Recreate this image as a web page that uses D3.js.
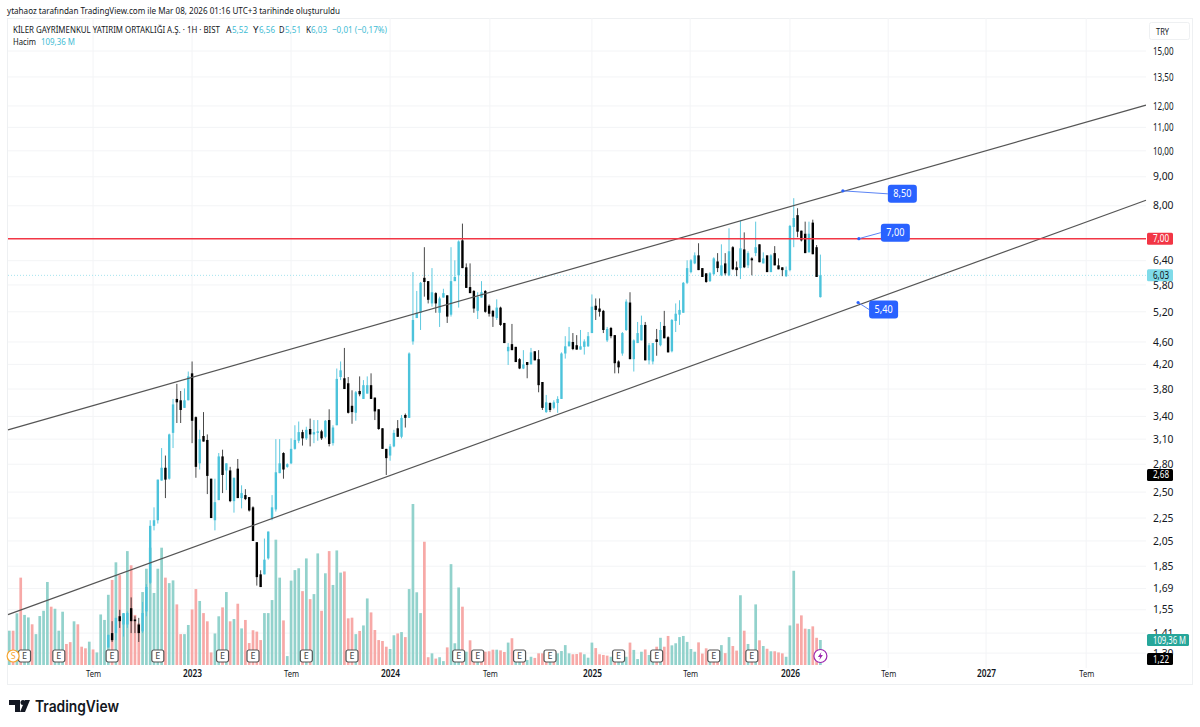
<!DOCTYPE html>
<html>
<head>
<meta charset="utf-8">
<script src="https://cdn.jsdelivr.net/npm/d3@7"></script>
<style>
  html, body { margin: 0; background: #fff; }
  text { font-family: "Noto Sans", sans-serif; }
</style>
</head>
<body>
<svg id="chart" width="1200" height="727"></svg>
<script>
const width = 1200;
const height = 727;
const pane = { left: 8, right: 1146, top: 18, bottom: 665 };

const priceTicks = [15, 13.5, 12, 11, 10, 9, 8, 6.4, 5.8, 5.2, 4.6, 4.2, 3.8, 3.4, 3.1, 2.8, 2.5, 2.25, 2.05, 1.85, 1.69, 1.55, 1.41, 1.3];
const timeTickBars = [22, 48, 74, 100, 126.2, 153, 178.8, 205, 230.8, 256.5, 282.8];
const timeTickLabels = ['Tem', '2023', 'Tem', '2024', 'Tem', '2025', 'Tem', '2026', 'Tem', '2027', 'Tem'];

// volume in millions, one per weekly bar
const volumes = [
  150,150,226,382,219,208,178,135,214,237,
  363,255,246,150,233,92,100,191,178,80,
  73,102,68,55,221,197,307,372,449,393,
  223,498,436,219,182,319,421,513,315,421,
  513,382,358,370,265,135,135,175,243,332,
  280,227,191,55,138,213,252,319,191,201,
  268,160,197,96,152,146,109,227,227,284,
  548,382,195,39,369,415,423,
  323,466,288,310,488,237,401,498,350,501,
  404,409,204,207,135,149,173,291,230,153,
  109,105,80,70,130,138,144,122,332,704,
  318,227,539,34,51,28,34,17,77,441,
  95,339,255,58,108,51,51,44,58,60,
  67,67,64,57,98,117,44,44,29,22,
  36,31,51,51,63,66,44,51,61,87,
  51,47,48,55,47,32,98,74,47,44,
  41,36,26,29,51,36,98,66,26,58,
  68,44,51,80,119,80,127,86,95,122,
  127,101,70,58,99,50,73,66,66,51,
  87,52,122,83,63,305,150,92,51,265,
  108,83,71,60,60,55,51,36,173,412,
  181,217,159,157,169,119,109.36
];
const volumeUp = [
  1,0,1,0,1,1,0,1,1,1,
  1,0,1,1,1,0,0,1,0,0,
  0,1,0,1,1,1,1,0,1,0,
  1,1,0,0,0,1,1,1,1,1,
  1,0,1,1,0,0,1,1,0,0,
  1,0,0,0,1,1,0,1,0,1,
  0,1,0,0,0,0,0,1,1,1,
  1,1,0,1,1,1,1,
  0,1,0,1,1,0,1,0,1,1,
  1,0,0,0,1,0,1,1,0,0,
  0,0,0,1,1,0,1,0,1,1,
  1,1,0,0,1,0,1,1,0,1,
  1,1,0,1,0,0,1,0,0,0,
  0,1,0,0,1,0,1,1,0,1,
  1,0,0,0,0,1,0,1,1,1,
  1,0,0,0,1,1,1,0,0,0,
  0,1,0,1,1,1,0,1,1,1,
  0,1,1,0,1,0,0,1,1,1,
  1,1,1,1,0,0,0,1,0,0,
  1,0,1,0,0,1,0,1,0,1,
  0,1,0,1,0,0,0,1,1,1,
  0,0,0,1,0,0,1
];

// candles before this bar sit under the bottom of the price scale
const firstCandleBar = 26;
const opens = [
  1.33,1.41,1.41,1.51,1.46,1.46,1.56,1.49,1.46,1.42,
  1.54,1.73,2.18,2.23,2.62,2.76,2.64,3.18,3.65,3.63,
  3.52,3.63,4.05,3.39,2.81,3.14,3.09,2.64,2.23,2.42,
  2.89,2.73,2.73,2.41,2.75,2.44,2.47,2.45,2.35,2.04,
  1.79,1.79,1.91,2.25,2.33,2.70,2.93,2.77,2.81,2.98,
  3.08,3.19,3.11,3.23,3.16,3.18,3.20,3.13,3.35,3.05,
  3.28,3.99,3.97,3.89,3.55,3.45,3.77,3.65,3.73,3.86,
  3.67,3.50,3.24,2.98,2.90,3.01,3.24,3.13,3.42,3.38,
  4.61,5.07,5.18,5.97,5.89,5.38,5.61,5.18,5.51,5.56,
  5.14,5.89,6.03,6.95,6.23,5.75,5.66,5.22,5.51,5.66,
  5.33,5.22,5.07,5.29,4.97,4.43,4.56,4.51,4.29,4.13,
  4.24,4.20,4.43,4.29,3.91,3.46,3.59,3.52,3.59,3.65,
  4.39,4.52,4.60,4.54,4.46,4.51,4.52,4.77,5.33,5.27,
  5.22,4.63,4.87,4.73,4.25,4.39,4.83,5.40,4.29,4.58,
  4.63,4.93,4.27,4.25,4.65,4.54,4.91,4.69,4.43,5.01,
  5.14,5.18,5.85,6.11,6.33,6.54,6.21,6.08,5.89,6.06,
  6.38,6.03,6.33,6.03,6.76,6.23,6.21,6.70,6.28,6.46,
  6.60,6.84,6.33,6.54,6.11,6.60,6.28,6.23,6.01,6.16,
  7.34,7.70,7.23,7.14,6.62,7.47,6.76,5.52
];
const highs = [
  1.40,1.48,1.50,1.55,1.53,1.54,1.63,1.51,1.50,1.60,
  1.72,2.23,2.35,2.63,2.99,2.90,3.17,3.65,3.88,3.77,
  3.81,4.08,4.25,3.40,3.22,3.46,3.16,2.64,2.64,2.93,
  2.97,2.81,2.77,2.65,2.86,2.57,2.53,2.45,2.36,2.04,
  1.82,2.07,2.13,2.47,3.10,3.10,2.94,2.81,3.11,3.28,
  3.33,3.22,3.26,3.37,3.35,3.35,3.22,3.35,3.50,3.28,
  4.13,4.25,4.49,3.99,3.78,3.77,4.00,3.94,4.00,4.05,
  3.67,3.50,3.24,2.98,3.04,3.22,3.35,3.42,3.44,4.41,
  6.11,5.66,5.87,6.76,5.89,6.21,5.63,5.53,5.71,5.56,
  6.76,6.41,6.95,7.44,6.33,6.33,5.68,5.63,5.89,5.68,
  5.36,5.24,5.47,5.31,4.97,4.58,4.95,4.51,4.31,4.45,
  4.24,4.49,4.43,4.45,3.91,3.71,3.60,3.63,3.69,4.41,
  4.71,4.89,4.77,4.73,4.83,4.65,4.79,5.58,5.49,5.49,
  5.24,4.89,4.89,4.73,4.27,4.79,5.47,5.63,4.65,4.99,
  5.12,4.99,4.58,4.58,4.85,4.99,5.22,4.71,5.05,5.38,
  5.45,5.87,6.41,6.44,6.62,6.87,6.21,6.08,6.11,6.49,
  6.60,6.84,6.60,7.30,6.79,6.38,7.53,7.18,6.65,6.49,
  7.50,6.84,6.62,6.54,6.57,6.79,6.46,6.23,6.25,7.40,
  8.25,7.92,7.23,7.50,7.50,7.56,6.82,6.56
];
const lows = [
  1.33,1.36,1.37,1.44,1.39,1.44,1.41,1.41,1.36,1.41,
  1.51,1.72,2.14,2.20,2.62,2.44,2.63,2.99,3.31,3.31,
  3.52,3.63,3.05,2.65,2.74,3.07,2.48,2.25,2.14,2.42,
  2.49,2.52,2.40,2.30,2.44,2.34,2.42,2.31,2.05,1.71,
  1.70,1.79,1.90,2.23,2.31,2.70,2.64,2.76,2.80,2.97,
  3.05,3.02,3.09,3.01,3.05,3.08,3.09,3.11,3.01,3.02,
  3.28,3.94,3.80,3.44,3.30,3.34,3.69,3.65,3.73,3.65,
  3.35,3.22,2.98,2.68,2.84,3.00,3.13,3.11,3.25,3.38,
  4.55,5.07,4.83,5.53,5.38,5.31,5.18,4.89,5.51,4.97,
  5.10,5.89,5.29,6.21,5.73,5.61,5.18,5.05,5.51,5.18,
  5.10,4.89,5.03,4.91,4.58,4.19,4.45,4.24,4.12,4.12,
  3.97,4.20,4.27,3.75,3.49,3.45,3.46,3.50,3.45,3.65,
  4.30,4.52,4.45,4.46,4.46,4.37,4.51,4.77,5.03,5.10,
  4.77,4.60,4.67,4.05,4.05,4.35,4.81,4.29,4.08,4.58,
  4.63,4.27,4.20,4.20,4.35,4.52,4.67,4.41,4.41,4.79,
  4.93,5.18,5.82,6.08,6.31,6.16,5.99,5.85,5.87,6.03,
  6.11,6.01,6.03,6.01,6.16,6.01,5.94,6.21,6.21,6.03,
  6.52,6.36,6.33,6.11,6.11,6.28,6.18,6.01,5.99,6.13,
  6.76,7.04,6.92,6.60,6.62,6.57,5.99,5.51
];
const closes = [
  1.40,1.37,1.50,1.48,1.53,1.53,1.48,1.48,1.41,1.53,
  1.70,2.18,2.23,2.63,2.76,2.63,3.16,3.57,3.60,3.49,
  3.63,4.00,3.34,2.77,3.10,3.07,2.67,2.25,2.40,2.89,
  2.68,2.81,2.41,2.65,2.44,2.49,2.43,2.32,2.05,1.77,
  1.70,1.90,2.13,2.35,2.71,2.81,2.74,2.80,2.98,3.09,
  3.19,3.11,3.22,3.16,3.19,3.20,3.11,3.34,3.04,3.25,
  3.96,4.10,3.80,3.45,3.46,3.75,3.72,3.86,3.86,3.65,
  3.47,3.23,2.98,2.87,3.01,3.18,3.13,3.38,3.38,4.39,
  5.03,5.18,5.85,5.87,5.46,5.63,5.38,5.49,5.61,5.10,
  5.89,5.99,6.92,6.21,5.73,5.61,5.27,5.53,5.63,5.20,
  5.16,5.10,5.29,4.93,4.58,4.51,4.45,4.24,4.13,4.20,
  4.19,4.41,4.27,3.86,3.52,3.60,3.49,3.60,3.65,4.39,
  4.52,4.61,4.47,4.46,4.52,4.61,4.71,5.31,5.24,5.20,
  4.83,4.85,4.71,4.22,4.15,4.77,5.42,4.29,4.63,4.77,
  4.93,4.27,4.54,4.58,4.60,4.83,4.67,4.41,5.03,5.16,
  5.24,5.85,6.21,6.41,6.54,6.16,5.99,5.87,6.08,6.46,
  6.21,6.28,6.08,6.65,6.18,6.16,6.73,6.23,6.60,6.41,
  6.76,6.36,6.46,6.11,6.54,6.28,6.18,6.16,6.16,7.37,
  7.61,7.20,6.95,6.60,7.14,6.57,5.99,6.03
];

// trend lines as [bar, price] ends
const upperTrend = [[-0.34, 3.22], [298.5, 12.04]];
const lowerTrend = [[-0.34, 1.52], [298.5, 8.18]];
const resistance = 7;
const lastPrice = 6.03;

const noteBars = [218.9, 223.1, 222.9];
const notePrices = [8.5, 7, 5.4];
const noteLabels = ['8,50', '7,00', '5,40'];
const noteOffsets = [[45, 3], [22, -6], [11, 7]];

const earningsBars = [4, 13, 27, 39, 56, 64, 78, 90, 118, 123, 134, 142, 160, 170, 185, 195];

const x = d3.scaleLinear().domain([0, 213]).range([9.3, 820.4]);
const y = d3.scaleLog().domain([15, 1.2]).range([51, 672.8]);
const volY = d3.scaleLinear().domain([0, 704]).range([pane.bottom, 504]);
const trendLine = d3.line().x(d => x(d[0])).y(d => y(d[1]));
const fmt = v => v.toFixed(2).replace('.', ',');

const svg = d3.select('#chart');

// frame
svg.append('rect').attr('x', 7.5).attr('y', 18.5).attr('width', 1185).attr('height', 666)
  .attr('fill', 'none').attr('stroke', '#eef0f2');

// grid
const grid = svg.append('g').attr('stroke', '#f3f4f6');
grid.selectAll('.h').data(priceTicks).join('line')
  .attr('x1', pane.left).attr('x2', pane.right)
  .attr('y1', d => y(d)).attr('y2', d => y(d));
grid.selectAll('.v').data(timeTickBars).join('line')
  .attr('x1', d => x(d)).attr('x2', d => x(d))
  .attr('y1', pane.top).attr('y2', pane.bottom + 3);

// volume
const barIndex = d3.range(volumes.length);
svg.append('g').selectAll('rect').data(barIndex).join('rect')
  .attr('x', i => x(i) - 1.35).attr('width', 2.7)
  .attr('y', i => volY(volumes[i]))
  .attr('height', i => pane.bottom - volY(volumes[i]))
  .attr('fill', i => volumeUp[i] ? '#92d2cc' : '#f7a9a7');

// last price dotted line
svg.append('line').attr('x1', pane.left).attr('x2', pane.right)
  .attr('y1', y(lastPrice)).attr('y2', y(lastPrice))
  .attr('stroke', '#a5e3ee').attr('stroke-dasharray', '1 2');

// candles
const upColor = '#4cc3db';
const downColor = '#000';
const candles = svg.append('g').selectAll('g').data(d3.range(opens.length)).join('g');
candles.append('line')
  .attr('x1', i => x(i + firstCandleBar)).attr('x2', i => x(i + firstCandleBar))
  .attr('y1', i => y(highs[i])).attr('y2', i => y(lows[i]))
  .attr('stroke', i => closes[i] >= opens[i] ? upColor : '#333')
  .attr('stroke-width', 0.9);
candles.append('rect')
  .attr('x', i => x(i + firstCandleBar) - 1.2).attr('width', 2.4)
  .attr('y', i => y(Math.max(opens[i], closes[i])))
  .attr('height', i => Math.max(1, y(Math.min(opens[i], closes[i])) - y(Math.max(opens[i], closes[i]))))
  .attr('fill', i => closes[i] >= opens[i] ? upColor : downColor);

// trend lines
svg.selectAll('.trend').data([upperTrend, lowerTrend]).join('path')
  .attr('d', trendLine).attr('fill', 'none').attr('stroke', '#555').attr('stroke-width', 1.2);
svg.append('line').attr('x1', pane.left).attr('x2', pane.right)
  .attr('y1', y(resistance)).attr('y2', y(resistance))
  .attr('stroke', '#f23645').attr('stroke-width', 1.5);

// callouts
const notes = svg.append('g').selectAll('g').data(noteLabels).join('g')
  .attr('transform', (d, i) => `translate(${x(noteBars[i])},${y(notePrices[i])})`);
notes.append('line')
  .attr('x2', (d, i) => noteOffsets[i][0]).attr('y2', (d, i) => noteOffsets[i][1])
  .attr('stroke', '#5b84f5').attr('stroke-width', 1);
notes.append('circle').attr('r', 1.6).attr('fill', '#2962ff');
notes.append('rect')
  .attr('x', (d, i) => noteOffsets[i][0]).attr('y', (d, i) => noteOffsets[i][1] - 9)
  .attr('width', 29).attr('height', 18).attr('rx', 3).attr('fill', '#2962ff');
notes.append('text')
  .attr('x', (d, i) => noteOffsets[i][0] + 14.5).attr('y', (d, i) => noteOffsets[i][1] + 3.5)
  .attr('text-anchor', 'middle').attr('fill', '#fff').attr('font-size', 10)
  .attr('textLength', 18).attr('lengthAdjust', 'spacingAndGlyphs').text(d => d);

// earnings and split markers
const markerY = 656;
const earnings = svg.append('g').selectAll('g').data(earningsBars).join('g')
  .attr('transform', d => `translate(${x(d)},${markerY})`);
earnings.append('rect').attr('x', -6).attr('y', -6).attr('width', 12).attr('height', 12).attr('rx', 2)
  .attr('fill', '#fff').attr('stroke', '#555').attr('stroke-width', 1.2);
earnings.append('text').attr('text-anchor', 'middle').attr('y', 3.2)
  .attr('font-size', 9).attr('fill', '#444').text('E');
const split = svg.append('g').attr('transform', `translate(${x(1)},${markerY})`);
split.append('circle').attr('r', 6).attr('fill', '#fff').attr('stroke', '#f7a631').attr('stroke-width', 1.2);
split.append('text').attr('text-anchor', 'middle').attr('y', 3.2).attr('font-size', 9).attr('fill', '#f7a631').text('S');
const flash = svg.append('g').attr('transform', `translate(${x(213)},${markerY})`);
flash.append('circle').attr('r', 6.5).attr('fill', '#fff').attr('stroke', '#9c27b0').attr('stroke-width', 1.2);
flash.append('path').attr('d', 'M1,-4 L-2.5,1 L-0.3,1 L-1,4 L2.5,-1 L0.3,-1 Z').attr('fill', '#9c27b0');

// axes
const priceAxis = d3.axisRight(y).tickValues(priceTicks).tickFormat(fmt).tickSize(0).tickPadding(0);
svg.append('g').attr('transform', 'translate(1153,0)').call(priceAxis)
  .call(g => g.select('.domain').remove())
  .selectAll('text').attr('font-size', 10).attr('fill', '#131722')
  .attr('textLength', 20.5).attr('lengthAdjust', 'spacingAndGlyphs')
  .style('font-family', '"Noto Sans", sans-serif');

const timeAxis = d3.axisBottom(x).tickValues(timeTickBars)
  .tickFormat((d, i) => timeTickLabels[i]).tickSize(0).tickPadding(0);
svg.append('g').attr('transform', 'translate(0,670.5)').call(timeAxis)
  .call(g => g.select('.domain').remove())
  .selectAll('text').attr('font-size', 9.8).attr('fill', '#131722')
  .attr('font-weight', (d, i) => timeTickLabels[i] === 'Tem' ? 400 : 600)
  .attr('textLength', (d, i) => timeTickLabels[i] === 'Tem' ? 15 : 19)
  .attr('lengthAdjust', 'spacingAndGlyphs')
  .style('font-family', '"Noto Sans", sans-serif');

// price scale labels
const scaleLabels = [
  { text: '7,00', cy: y(7), w: 26, bg: '#f23645', fg: '#fff', tw: 16 },
  { text: '6,03', cy: y(6.03), w: 26, bg: '#7fdbe9', fg: '#131722', tw: 16 },
  { text: '2,68', cy: y(2.68), w: 26, bg: '#000', fg: '#fff', tw: 16 },
  { text: '109,36 M', cy: 640, w: 42, bg: '#26a69a', fg: '#fff', tw: 33 },
  { text: '1,22', cy: 659, w: 26, bg: '#000', fg: '#fff', tw: 16 }
];
const labels = svg.append('g').selectAll('g').data(scaleLabels).join('g')
  .attr('transform', d => `translate(1147,${d.cy})`);
labels.append('rect').attr('y', -6).attr('height', 12).attr('rx', 1.5)
  .attr('width', d => d.w).attr('fill', d => d.bg);
labels.append('text').attr('x', 6).attr('y', 3.5).attr('font-size', 10)
  .attr('textLength', d => d.tw).attr('lengthAdjust', 'spacingAndGlyphs')
  .attr('fill', d => d.fg).text(d => d.text);

// currency box
svg.append('rect').attr('x', 1149.5).attr('y', 22.5).attr('width', 40).attr('height', 17).attr('rx', 2)
  .attr('fill', '#fff').attr('stroke', '#eef0f2');
svg.append('text').attr('x', 1156).attr('y', 34.5).attr('font-size', 9.5).attr('fill', '#131722')
  .attr('textLength', 13).attr('lengthAdjust', 'spacingAndGlyphs').text('TRY');

// header
svg.append('text').attr('x', 7).attr('y', 13.5).attr('font-size', 9.6).attr('fill', '#131722')
  .attr('textLength', 333).attr('lengthAdjust', 'spacingAndGlyphs')
  .text('ytahaoz tarafından TradingView.com ile Mar 08, 2026 01:16 UTC+3 tarihinde oluşturuldu');

// legend pieces: text, left edge, width
const legendTeal = '#3fbcd4';
const legendDark = '#131722';
const legendPieces = [
  ['KİLER GAYRİMENKUL YATIRIM ORTAKLIĞI A.Ş. · 1H · BIST', 13, 207, 33, legendDark],
  ['A', 226, 5.5, 33, legendDark], ['5,52', 232, 16, 33, legendTeal],
  ['Y', 253, 5.5, 33, legendDark], ['6,56', 259, 16, 33, legendTeal],
  ['D', 279, 5.5, 33, legendDark], ['5,51', 285, 16, 33, legendTeal],
  ['K', 306, 5, 33, legendDark], ['6,03', 311, 16, 33, legendTeal],
  ['−0,01 (−0,17%)', 332, 55, 33, legendTeal],
  ['Hacim', 13, 23, 45, legendDark], ['109,36 M', 41, 34, 45, legendTeal]
];
svg.append('g').selectAll('text').data(legendPieces).join('text')
  .attr('x', d => d[1]).attr('y', d => d[3]).attr('font-size', 9.2)
  .attr('textLength', d => d[2]).attr('lengthAdjust', 'spacingAndGlyphs')
  .attr('fill', d => d[4]).text(d => d[0]);

// logo
const logo = svg.append('g').attr('fill', '#131722');
logo.append('path').attr('d', 'M9,700 H20 V712 H15 V705 H9 Z');
logo.append('circle').attr('cx', 23).attr('cy', 702.5).attr('r', 2.5);
logo.append('path').attr('d', 'M20,712 L25,700 H30 L25,712 Z');
svg.append('text').attr('x', 35).attr('y', 711.5).attr('font-size', 15.5).attr('font-weight', 600)
  .attr('textLength', 84).attr('lengthAdjust', 'spacingAndGlyphs')
  .style('font-family', 'Inter, sans-serif').attr('fill', '#131722').text('TradingView');
</script>
</body>
</html>
